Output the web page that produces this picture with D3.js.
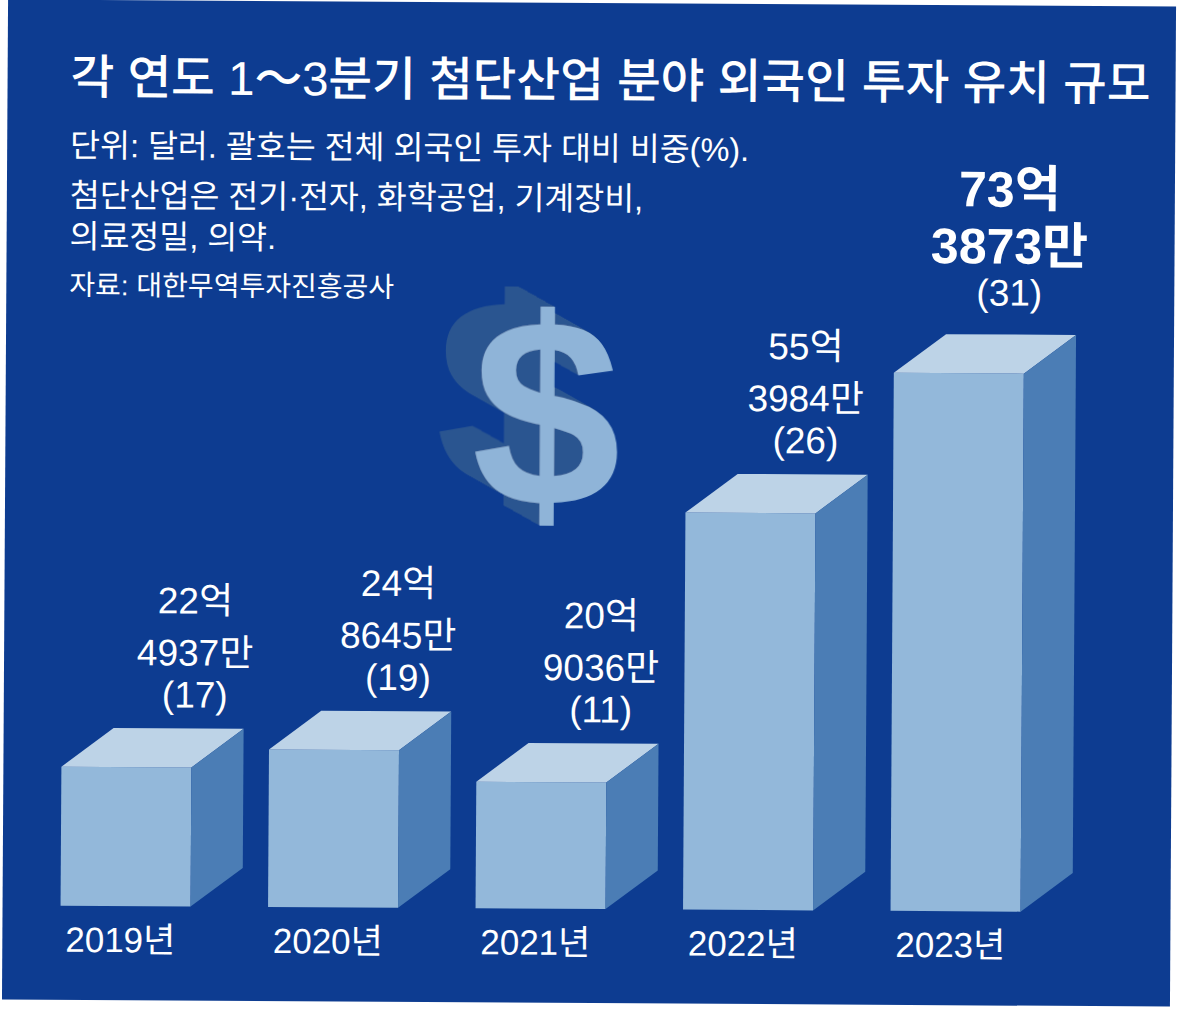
<!DOCTYPE html>
<html>
<head>
<meta charset="utf-8">
<script src="https://cdn.jsdelivr.net/npm/d3@7"></script>
<style>
  html, body { margin: 0; padding: 0; background: #ffffff; }
  text { font-family: "Liberation Sans", "Noto Sans CJK KR", sans-serif; fill: #ffffff; }
</style>
</head>
<body>
<script>
var width = 1178, height = 1010;

// 1~3분기 첨단산업 외국인 투자 (단위: 억 달러), 괄호 안은 비중(%)
var years = ["2019년", "2020년", "2021년", "2022년", "2023년"];
var amounts = [22.4937, 24.8645, 20.9036, 55.3984, 73.3873];
var shares = [17, 19, 11, 26, 31];

var titleText = "각 연도 1～3분기 첨단산업 분야 외국인 투자 유치 규모";
var noteLines = [
  "단위: 달러. 괄호는 전체 외국인 투자 대비 비중(%).",
  "첨단산업은 전기·전자, 화학공업, 기계장비,",
  "의료정밀, 의약."
];
var sourceText = "자료: 대한무역투자진흥공사";

var colors = {bg: "#0d3c91", front: "#93b8da", top: "#bdd3e7", side: "#4b7db5",
  dollar: "#8fb4d8", dollarBack: "#2a5590"};

var baseline = 909;
var depth = {dx: 52, dy: -39};

var svg = d3.select("body")
  .append("svg")
  .attr("width", width)
  .attr("height", height);

// extrusion for the dollar sign: stacked offset copies of its own shape
var defs = svg.append("defs");
var extrude = defs.append("filter")
  .attr("id", "extrude")
  .attr("x", "-40%").attr("y", "-40%")
  .attr("width", "180%").attr("height", "180%");
var nSteps = 36;
for (var k = 1; k <= nSteps; k++)
{
  extrude.append("feOffset")
    .attr("in", "SourceAlpha")
    .attr("dx", -36 * k / nSteps)
    .attr("dy", -20 * k / nSteps)
    .attr("result", "o" + k);
}
var stack = extrude.append("feMerge").attr("result", "stack");
for (var k = 1; k <= nSteps; k++) stack.append("feMergeNode").attr("in", "o" + k);
extrude.append("feFlood").attr("flood-color", colors.dollarBack).attr("result", "tone");
extrude.append("feComposite").attr("in", "tone").attr("in2", "stack")
  .attr("operator", "in").attr("result", "ext");
var topMerge = extrude.append("feMerge");
topMerge.append("feMergeNode").attr("in", "ext");
topMerge.append("feMergeNode").attr("in", "SourceGraphic");

// scanned page is tilted a little
var page = svg.append("g")
  .attr("transform", "rotate(0.35," + width / 2 + "," + height / 2 + ")");

page.append("rect")
  .attr("x", 5)
  .attr("y", 3)
  .attr("width", 1168)
  .attr("height", 1000)
  .attr("fill", colors.bg);

var x = d3.scaleBand()
  .domain(years)
  .range([63, 1023])
  .paddingInner(0.3735)
  .paddingOuter(0);

var y = d3.scaleLinear()
  .domain([4.75, 73.3873])
  .range([baseline, 371]);

// title and notes
page.append("text")
  .text(titleText)
  .attr("x", 68)
  .attr("y", 97)
  .attr("font-size", 47.5)
  .attr("font-weight", 500);

page.selectAll(".note")
  .data(noteLines)
  .enter()
  .append("text")
  .attr("class", "note")
  .text(function(d){ return d; })
  .attr("x", 68)
  .attr("y", function(d, i){ return [160, 210, 251][i]; })
  .attr("font-size", 32.5);

page.append("text")
  .text(sourceText)
  .attr("x", 68)
  .attr("y", 298)
  .attr("font-size", 28);

// 3D dollar sign
page.append("text")
  .text("$")
  .attr("x", 546)
  .attr("y", 506)
  .attr("text-anchor", "middle")
  .attr("font-size", 268)
  .attr("font-weight", "bold")
  .attr("filter", "url(#extrude)")
  .style("fill", colors.dollar);

// bars
var bars = page.selectAll(".bar")
  .data(years)
  .enter()
  .append("g")
  .attr("class", "bar");

bars.append("rect")
  .attr("x", function(d){ return x(d); })
  .attr("y", function(d, i){ return y(amounts[i]); })
  .attr("width", x.bandwidth())
  .attr("height", function(d, i){ return baseline - y(amounts[i]); })
  .attr("fill", colors.front);

bars.append("path")
  .attr("d", function(d, i){
    var x0 = x(d), x1 = x(d) + x.bandwidth(), yt = y(amounts[i]);
    return "M" + x0 + "," + yt + "L" + (x0 + depth.dx) + "," + (yt + depth.dy) +
      "L" + (x1 + depth.dx) + "," + (yt + depth.dy) + "L" + x1 + "," + yt + "Z";
  })
  .attr("fill", colors.top);

bars.append("path")
  .attr("d", function(d, i){
    var x1 = x(d) + x.bandwidth(), yt = y(amounts[i]);
    return "M" + x1 + "," + yt + "L" + (x1 + depth.dx) + "," + (yt + depth.dy) +
      "L" + (x1 + depth.dx) + "," + (baseline + depth.dy) + "L" + x1 + "," + baseline + "Z";
  })
  .attr("fill", colors.side);

// year labels
bars.append("text")
  .text(function(d){ return d; })
  .attr("x", function(d){ return x(d) + x.bandwidth() / 2 - 5; })
  .attr("y", baseline + 46)
  .attr("text-anchor", "middle")
  .attr("font-size", 35);

// value labels: 억 / 만 / (비중)
var last = years.length - 1;
bars.each(function(d, i){
  var v = amounts[i];
  var eok = Math.floor(v);
  var man = Math.round((v - eok) * 10000);
  var lines = [eok + "억", man + "만", "(" + shares[i] + ")"];
  var cx = x(d) + x.bandwidth() / 2 + 68 - 4.5 * i;
  var backTop = y(v) + depth.dy;
  var big = (i === last);
  var offsets = big ? [-128, -71, -29] : [-115, -63, -21];
  var g = d3.select(this);
  lines.forEach(function(line, k){
    g.append("text")
      .text(line)
      .attr("x", cx)
      .attr("y", backTop + offsets[k])
      .attr("text-anchor", "middle")
      .attr("font-size", big && k < 2 ? 50 : 37)
      .attr("font-weight", big && k < 2 ? "bold" : "normal");
  });
});
</script>
</body>
</html>
